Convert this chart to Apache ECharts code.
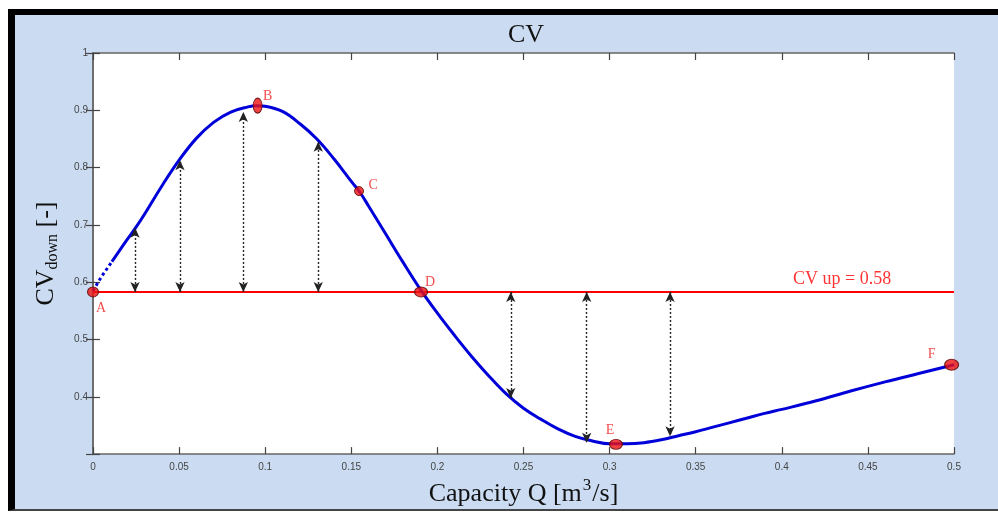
<!DOCTYPE html>
<html>
<head>
<meta charset="utf-8">
<script src="https://cdn.jsdelivr.net/npm/echarts@6/dist/echarts.min.js"></script>
<style>
  html, body { margin: 0; padding: 0; background: #fff; }
  #frame {
    position: absolute; left: 8px; top: 9px; width: 990px; height: 502px;
    box-sizing: border-box; background: #cbdcf2;
    border-left: 7px solid #000; border-top: 6px solid #000; border-bottom: 2px solid #444;
  }
  #chart { position: absolute; left: 0; top: 0; width: 998px; height: 512px; }
</style>
</head>
<body>
<div id="frame"></div>
<div id="chart"></div>
<script>
// CV_down curve
const leadInQ = [0, 0.005, 0.011]
const leadInCv = [0.585, 0.61, 0.636]

const capacity = [0.011, 0.02, 0.025, 0.03, 0.04, 0.05, 0.06, 0.07, 0.08, 0.09, 0.095, 0.10,
  0.11, 0.12, 0.13, 0.14, 0.15, 0.155, 0.16, 0.17, 0.18, 0.19, 0.20, 0.21, 0.22, 0.23, 0.24,
  0.25, 0.26, 0.27, 0.28, 0.29, 0.30, 0.31, 0.32, 0.33, 0.34, 0.35, 0.36, 0.37, 0.38, 0.39,
  0.40, 0.42, 0.44, 0.46, 0.48, 0.50]
const cvDown = [0.636, 0.675, 0.696, 0.719, 0.768, 0.813, 0.851, 0.879, 0.897, 0.906, 0.908, 0.907,
  0.898, 0.877, 0.850, 0.815, 0.776, 0.757, 0.733, 0.684, 0.635, 0.588, 0.546, 0.507, 0.470, 0.436, 0.405,
  0.380, 0.361, 0.344, 0.331, 0.323, 0.318, 0.318, 0.320, 0.325, 0.332, 0.339, 0.347, 0.355, 0.363, 0.371,
  0.378, 0.393, 0.410, 0.426, 0.441, 0.456]

// CV up level
const cvUp = 0.583

// marked points
const pointNames = ['A', 'B', 'C', 'D', 'E', 'F']
const pointQ = [0, 0.0956, 0.1545, 0.1905, 0.3037, 0.4986]
const pointCv = [0.583, 0.908, 0.759, 0.583, 0.317, 0.456]

// dotted arrows between CV up and the curve
const arrowQ = [0.0244, 0.0505, 0.0873, 0.1308, 0.2426, 0.2867, 0.3351]
const arrowCv = [0.695, 0.813, 0.897, 0.845, 0.398, 0.320, 0.331]

const xTicks = { min: 0, max: 0.5, interval: 0.05 }
const yTicks = { min: 0.3, max: 1, interval: 0.1 }

const serif = 'Liberation Serif'
const sans = 'Liberation Sans'
const blue = '#0000d8'
const red = '#ff0000'

// label placement per point (offsets in px)
const pointStyle = {
  A: { size: [11, 10], offset: [8, 16] },
  B: { size: [9, 15], offset: [10, -9] },
  C: { size: [9, 9], offset: [14, -6] },
  D: { size: [13, 10], offset: [9, -10] },
  E: { size: [13, 10], offset: [-6, -14] },
  F: { size: [14, 11], offset: [-20, -10] }
}

const chart = echarts.init(document.getElementById('chart'))

const axisCommon = {
  type: 'value',
  axisLine: { show: true, lineStyle: { color: '#666', width: 1.5 } },
  axisTick: { show: true, inside: true, length: 7, lineStyle: { color: '#444', width: 1.2 } },
  splitLine: { show: false }
}

const option = {
  animation: false,
  backgroundColor: 'transparent',
  title: {
    text: 'CV',
    left: 521,
    top: 17,
    textAlign: 'center',
    textStyle: { fontFamily: serif, fontSize: 26, fontWeight: 'normal', color: '#111' }
  },
  grid: {
    left: 93, top: 53, right: 44, bottom: 57,
    show: true, backgroundColor: '#fff', borderWidth: 0
  },
  xAxis: [
    {
      ...axisCommon, ...xTicks,
      position: 'bottom',
      name: '{a|Capacity Q [m}{s|3}{a|/s]}',
      nameLocation: 'middle',
      nameGap: 22,
      nameTextStyle: {
        rich: {
          a: { fontFamily: serif, fontSize: 26, color: '#111', verticalAlign: 'bottom' },
          s: { fontFamily: serif, fontSize: 17, color: '#111', verticalAlign: 'bottom', padding: [0, 1, 13, 1] }
        }
      },
      axisLabel: { color: '#444', fontFamily: sans, fontSize: 10, margin: 8 }
    },
    {
      ...axisCommon, ...xTicks,
      position: 'top',
      axisLabel: { show: false }
    }
  ],
  yAxis: [
    {
      ...axisCommon, ...yTicks,
      position: 'left',
      name: '{a|CV}{s|down}{a| [-]}',
      nameLocation: 'middle',
      nameRotate: 90,
      nameGap: 32,
      nameTextStyle: {
        rich: {
          a: { fontFamily: serif, fontSize: 26, color: '#111', verticalAlign: 'top' },
          s: { fontFamily: serif, fontSize: 16, color: '#111', verticalAlign: 'top', padding: [12, 0, 0, 0] }
        }
      },
      axisLabel: {
        color: '#444', fontFamily: sans, fontSize: 10, margin: 5,
        formatter: v => (Math.abs(v - 0.3) < 1e-6 ? '' : String(+v.toFixed(2)))
      }
    },
    {
      ...axisCommon, ...yTicks,
      position: 'right',
      axisLabel: { show: false }
    }
  ],
  series: [
    {
      type: 'line',
      data: [[0, cvUp], [0.5, cvUp]],
      showSymbol: false,
      lineStyle: { color: red, width: 2 },
      z: 2
    },
    {
      type: 'line',
      data: leadInQ.map((q, i) => [q, leadInCv[i]]),
      showSymbol: false,
      lineStyle: { color: blue, width: 3, type: [3, 3] },
      z: 3
    },
    {
      type: 'line',
      data: capacity.map((q, i) => [q, cvDown[i]]),
      smooth: 0.4,
      showSymbol: false,
      lineStyle: { color: blue, width: 3 },
      z: 3
    },
    {
      type: 'line',
      data: [],
      markLine: {
        silent: true,
        symbol: ['arrow', 'arrow'],
        symbolSize: [7, 10],
        label: { show: false },
        lineStyle: { color: '#222', width: 1.4, type: [2, 2] },
        data: arrowQ.map((q, i) => [{ coord: [q, cvUp] }, { coord: [q, arrowCv[i]] }])
      },
      z: 4
    },
    {
      type: 'scatter',
      data: [[0.435, cvUp]],
      symbolSize: 0,
      label: {
        show: true,
        position: 'top',
        distance: 4,
        formatter: 'CV up = ' + cvUp.toFixed(2),
        fontFamily: serif, fontSize: 18, color: red
      },
      z: 5
    },
    {
      type: 'scatter',
      data: pointNames.map((n, i) => ({
        name: n,
        value: [pointQ[i], pointCv[i]],
        symbolSize: pointStyle[n].size,
        label: { offset: pointStyle[n].offset }
      })),
      itemStyle: { color: '#ee1111', borderColor: '#550000', borderWidth: 1 },
      label: {
        show: true,
        position: 'inside',
        formatter: '{b}',
        fontFamily: serif, fontSize: 14, color: '#ee2222'
      },
      z: 6
    }
  ]
}

chart.setOption(option)
</script>
</body>
</html>
